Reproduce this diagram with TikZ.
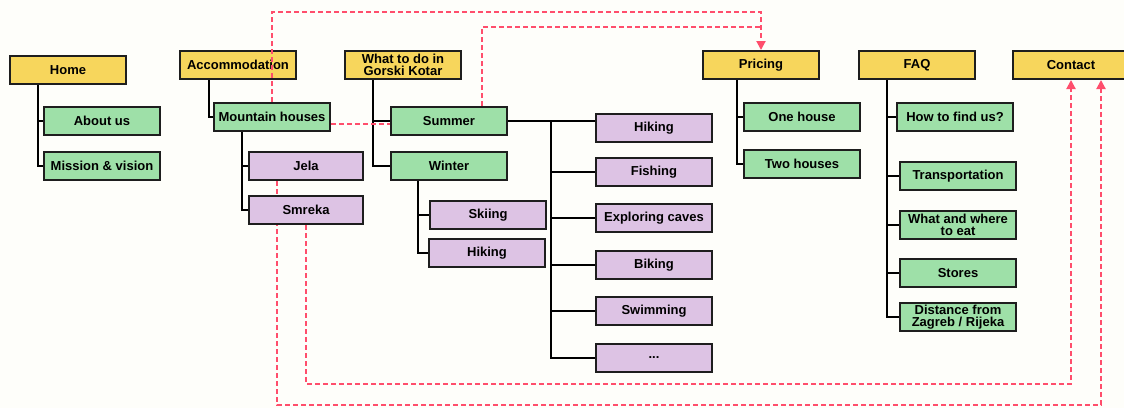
\documentclass[tikz,border=0pt]{standalone}
\usepackage{fontspec}
\setmainfont{Liberation Sans}
\usetikzlibrary{arrows.meta,calc}
\definecolor{bgc}{RGB}{254,254,250}
\definecolor{ylw}{RGB}{247,214,92}
\definecolor{grn}{RGB}{158,224,168}
\definecolor{prp}{RGB}{221,195,228}
\definecolor{lnk}{RGB}{255,78,108}
\definecolor{edgec}{RGB}{30,30,30}
\pgfdeclarelayer{background}
\pgfsetlayers{background,main}
\begin{document}
\begin{tikzpicture}[x=1pt,y=-1pt,
 box/.style={draw=edgec,line width=2pt,minimum height=28pt,minimum width=116pt,inner sep=0pt,align=center,font=\fontsize{13}{12.5}\selectfont\bfseries,text=black},
 topbox/.style={box,fill=ylw},
 secbox/.style={box,fill=grn},
 leafbox/.style={box,fill=prp},
 tree/.style={draw=black,line width=2pt},
 link/.style={draw=lnk,line width=2pt,dash pattern=on 5pt off 3pt},
 tip/.style={-{Triangle[width=9pt,length=9pt]}}
]
\useasboundingbox (0,0) rectangle (1124,408);
\clip (0,0) rectangle (1124,408);

% top level
\node[topbox] (home) at (68,70) {Home};
\node[topbox] (accom) at (238,65) {Accommodation};
\node[topbox] (whattodo) at (403,65) {What to do in\\Gorski Kotar};
\node[topbox] (pricing) at (761,65) {Pricing};
\node[topbox] (faq) at (917,65) {FAQ};
\node[topbox] (contact) at (1071,65) {Contact};

% second level
\node[secbox] (about) at (102,121) {About us};
\node[secbox] (mission) at (102,166) {Mission \& vision};
\node[secbox] (mountain) at (272,117) {Mountain houses};
\node[secbox] (summer) at (449,121) {Summer};
\node[secbox] (winter) at (449,166) {Winter};
\node[secbox] (one) at (802,117) {One house};
\node[secbox] (two) at (802,164) {Two houses};
\node[secbox] (find) at (955,117) {How to find us?};
\node[secbox] (transport) at (958,176) {Transportation};
\node[secbox] (eat) at (958,225) {What and where\\to eat};
\node[secbox] (stores) at (958,273) {Stores};
\node[secbox] (distance) at (958,317) {Distance from\\Zagreb / Rijeka};

% leaves
\node[leafbox,minimum width=114pt] (jela) at (306,166) {Jela};
\node[leafbox,minimum width=114pt] (smreka) at (306,210) {Smreka};
\node[leafbox] (skiing) at (488,215) {Skiing};
\node[leafbox] (hikingw) at (487,253) {Hiking};
\node[leafbox] (hiking) at (654,128) {Hiking};
\node[leafbox] (fishing) at (654,172) {Fishing};
\node[leafbox] (caves) at (654,218) {Exploring caves};
\node[leafbox] (biking) at (654,265) {Biking};
\node[leafbox] (swimming) at (654,311) {Swimming};
\node[leafbox] (dots) at (654,358) {...};

\coordinate (hub) at (551,121);
\coordinate (cD) at ([xshift=30pt]contact.south);

\begin{pgfonlayer}{background}
\fill[bgc] (0,0) rectangle (1124,408);
% tree connectors
\draw[tree] ([xshift=29pt]home.south west) |- (about.west);
\draw[tree] ([xshift=29pt]home.south west) |- (mission.west);
\draw[tree] ([xshift=30pt]accom.south west) |- (mountain.west);
\draw[tree] ([xshift=29pt]mountain.south west) |- (jela.west);
\draw[tree] ([xshift=29pt]mountain.south west) |- (smreka.west);
\draw[tree] ([xshift=29pt]whattodo.south west) |- (summer.west);
\draw[tree] ([xshift=29pt]whattodo.south west) |- (winter.west);
\draw[tree] ([xshift=28pt]winter.south west) |- (skiing.west);
\draw[tree] ([xshift=28pt]winter.south west) |- (hikingw.west);
\draw[tree,line width=2.4pt] (summer.east) -- (hub);
\draw[tree] (hub) -- (hub -| hiking.west);
\draw[tree] (hub) |- (fishing.west);
\draw[tree] (hub) |- (caves.west);
\draw[tree] (hub) |- (biking.west);
\draw[tree] (hub) |- (swimming.west);
\draw[tree] (hub) |- (dots.west);
\draw[tree] ([xshift=35pt]pricing.south west) |- (one.west);
\draw[tree] ([xshift=35pt]pricing.south west) |- (two.west);
\draw[tree] ([xshift=29pt]faq.south west) |- (find.west);
\draw[tree] ([xshift=29pt]faq.south west) |- (transport.west);
\draw[tree] ([xshift=29pt]faq.south west) |- (eat.west);
\draw[tree] ([xshift=29pt]faq.south west) |- (stores.west);
\draw[tree] ([xshift=29pt]faq.south west) |- (distance.west);
% link from Jela runs behind Smreka
\draw[link,tip] ([xshift=29pt]jela.south west) |- (cD |- 0,405) -- (cD);
\end{pgfonlayer}

% other links
\draw[link,tip] (smreka.south) |- (contact.south |- 0,384) -- (contact.south);
\draw[link] (mountain.east |- 0,124) -- (summer.west |- 0,124);
\draw[link] ([xshift=33pt]summer.north) |- (pricing.north |- 0,27);
\draw[link,tip] (mountain.north) -- (mountain.north |- 0,12) -- (pricing.north |- 0,12) -- (pricing.north);
\end{tikzpicture}
\end{document}
